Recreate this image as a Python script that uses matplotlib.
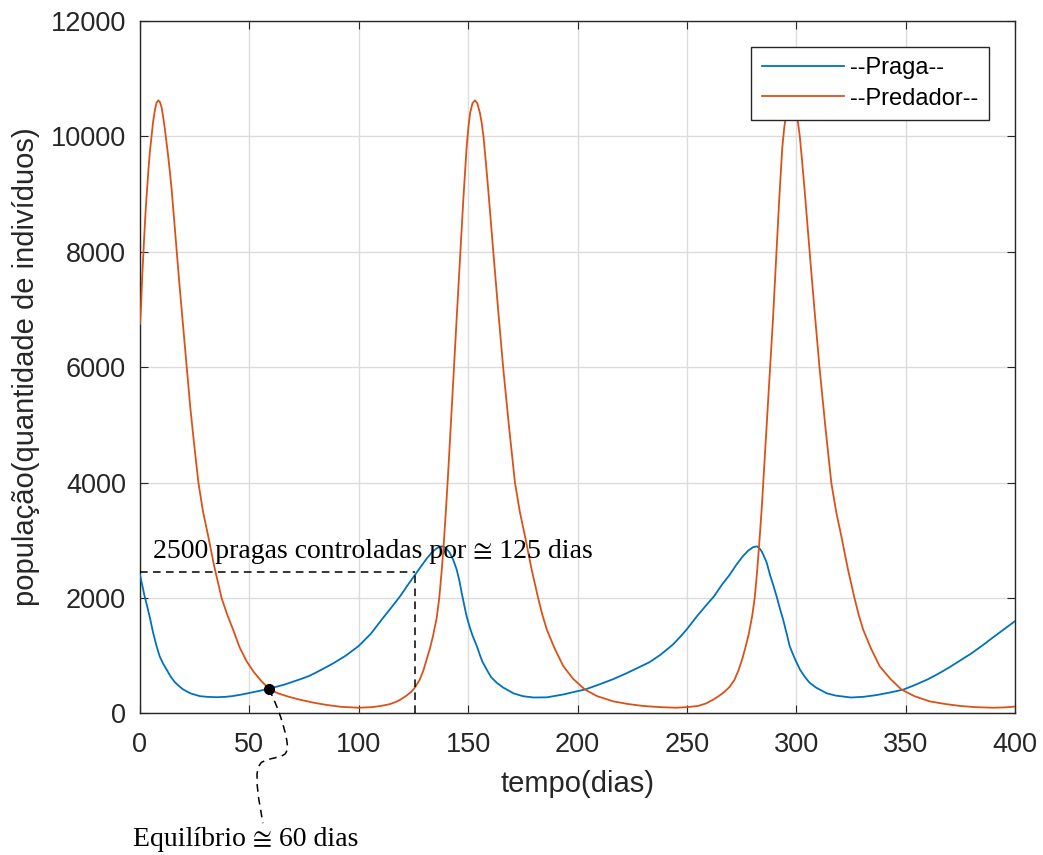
import numpy as np
import matplotlib.pyplot as plt
from matplotlib.path import Path
from matplotlib.patches import PathPatch

# Predador (orange) curve
t_pred = [0, 0.5, 1, 1.5, 2, 2.5, 3, 3.8, 4.5, 5.3, 6, 6.9, 7.6, 8.4, 9.1, 9.9,
          10.6, 11.4, 12.1, 12.9, 13.7, 14.5, 15.6, 16.8, 18, 19.5, 21.3, 23, 24.8,
          26.7, 28.8, 31.2, 34, 37.3, 40, 42.6, 45.5, 48.8, 52, 55.5, 59, 63, 68,
          73, 79, 85, 92, 100, 106, 110, 114, 117, 119, 121.5, 123.8, 125.7, 127.8,
          129.5, 131, 132.5, 134, 135.6, 136.8, 137.8, 138.7, 139.9, 141, 142.1,
          143.2, 144.7, 146.3, 147.8, 149.3, 150.1, 150.9, 152, 153.1, 154.2, 155.4,
          156.2, 157, 158.1, 159.2, 160.3, 161.5, 163.7, 166, 168.6, 171.4, 173.6,
          176, 179, 182, 184, 186, 189.5, 193.5, 198, 203.4, 209, 216.4, 223, 230,
          238, 245, 250, 255, 258.5, 262, 264.5, 267, 269.5, 271.7, 273.5, 275.2,
          276.8, 278.3, 279.8, 281, 282, 283, 284.2, 285.3, 286.5, 287.7, 289.3,
          290.8, 292.2, 293.6, 294.5, 295.4, 296.5, 297.7, 298.8, 300, 300.8, 301.6,
          302.7, 303.8, 304.9, 306.1, 308.3, 310.6, 313.2, 316, 318.2, 320.6, 323.6,
          326.6, 328.6, 330.6, 334.1, 338.1, 343, 348.1, 354, 361, 368, 375, 382,
          390, 395, 400]
y_pred = [6750, 7050, 7550, 7930, 8300, 8650, 8950, 9380, 9720, 10000, 10250,
          10470, 10580, 10620, 10590, 10500, 10330, 10120, 9900, 9650, 9370, 9070,
          8560, 8000, 7450, 6800, 6000, 5300, 4650, 4000, 3500, 3070, 2540, 2000,
          1700, 1450, 1150, 900, 720, 560, 430, 350, 290, 240, 190, 150, 115, 100,
          110, 130, 160, 200, 240, 300, 370, 450, 580, 740, 930, 1120, 1350, 1650,
          2000, 2420, 2850, 3550, 4250, 5000, 5750, 6800, 7900, 8900, 9800, 10150,
          10400, 10570, 10620, 10570, 10400, 10230, 10000, 9550, 9070, 8550, 8000,
          7000, 6000, 5000, 4000, 3500, 3070, 2500, 2000, 1700, 1450, 1130, 820, 600,
          415, 300, 210, 165, 130, 110, 100, 110, 130, 170, 240, 300, 370, 460, 580,
          740, 930, 1150, 1380, 1680, 2000, 2420, 2900, 3550, 4250, 5000, 5750, 6800,
          7900, 8900, 9800, 10150, 10400, 10570, 10620, 10570, 10400, 10230, 10000,
          9550, 9070, 8550, 8000, 7000, 6000, 5000, 4000, 3500, 3070, 2500, 2000,
          1700, 1450, 1130, 820, 600, 415, 300, 210, 165, 130, 110, 100, 105, 120]

# Praga (blue) curve
t_praga = [0, 1, 2, 3, 4.6, 6, 7.6, 9, 10.5, 12.2, 14, 16, 18, 19.8, 23, 27.4, 31,
           35, 39, 42, 46, 50.3, 55, 59, 62.5, 66, 69.5, 73, 77, 80, 84, 88.4, 94,
           100, 105.5, 111, 115, 118.9, 122.5, 125.7, 128.5, 131, 133.4, 135.6,
           137.2, 138.5, 140, 141.5, 143.2, 144.8, 146, 147, 148.2, 149.3, 150.7,
           152, 154, 155.5, 156.5, 158.5, 160.5, 163, 166, 170.7, 175, 180, 186,
           193.6, 198, 203.4, 209, 216, 222, 227.5, 233, 238, 243.5, 247, 250, 254.5,
           258.5, 262.4, 266, 269.5, 272.5, 275.5, 278, 280.2, 282, 283.2, 284.3,
           285.5, 286.5, 288, 289.5, 291, 292.5, 294, 295.5, 297, 299.3, 301.7, 303.8,
           306, 309, 313.9, 318, 325, 331, 336.8, 343, 349, 354, 360, 365, 370, 375,
           380, 385.5, 390, 395, 400]
y_praga = [2400, 2230, 2050, 1900, 1650, 1400, 1165, 990, 870, 760, 640, 540, 470,
           415, 350, 300, 288, 282, 288, 300, 325, 358, 395, 432, 465, 500, 545, 590,
           645, 700, 780, 870, 1000, 1170, 1380, 1650, 1840, 2030, 2230, 2400, 2550,
           2680, 2790, 2860, 2890, 2895, 2860, 2790, 2660, 2490, 2300, 2100, 1880,
           1685, 1500, 1350, 1165, 1000, 900, 760, 630, 535, 450, 350, 300, 277, 280,
           330, 370, 415, 490, 590, 690, 790, 890, 1020, 1190, 1330, 1460, 1680, 1860,
           2030, 2230, 2400, 2570, 2720, 2820, 2880, 2895, 2860, 2800, 2700, 2610,
           2400, 2220, 2030, 1820, 1625, 1400, 1165, 950, 760, 640, 536, 450, 350,
           310, 277, 290, 320, 365, 415, 490, 590, 690, 800, 920, 1040, 1190, 1320,
           1460, 1600]

# annotations
equil_t, equil_y = 59, 430
ctrl_t, ctrl_y = 125.5, 2450
txt_ctrl = "2500 pragas controladas por \u2245 125 dias"
txt_equil = "Equil\u00edbrio \u2245 60 dias"
# connector from the equilibrium point to its label (data coords)
conn_t = [59.0, 61.0, 63.2, 65.0, 66.3, 67.1, 67.4, 67.2, 66.4, 64.6, 61.5, 58.0,
          55.4, 54.0, 53.5, 53.6, 54.3, 55.3, 56.2]
conn_y = [425, 260, 60, -140, -320, -460, -560, -640, -700, -740, -770, -800,
          -850, -930, -1050, -1250, -1480, -1700, -1900]

xticks = np.arange(0, 401, 50)
yticks = np.arange(0, 12001, 2000)

plt.rcParams['font.family'] = ['Liberation Sans', 'DejaVu Sans']

fig = plt.figure(figsize=(10.43, 8.55), dpi=100)
ax = fig.add_axes([0.1342, 0.1655, 0.8390, 0.8103])

tc = '#262626'
ax.plot(t_praga, y_praga, color='#0072BD', lw=1.3, label='--Praga--', zorder=3)
ax.plot(t_pred, y_pred, color='#D95319', lw=1.3, label='--Predador--', zorder=3)

dash = (0, (5, 3.5))
ax.plot([0, ctrl_t], [ctrl_y, ctrl_y], color='black', ls=dash, lw=1.1, zorder=4)
ax.plot([ctrl_t, ctrl_t], [0, ctrl_y], color='black', ls=dash, lw=1.1, zorder=4)
ax.plot([equil_t], [equil_y], 'o', color='black', ms=7, zorder=5)

codes = [Path.MOVETO] + [Path.LINETO] * (len(conn_t) - 1)
path = Path(np.column_stack([conn_t, conn_y]), codes)
ax.add_patch(PathPatch(path, fill=False, ec='black', lw=1.1, ls=dash,
                       clip_on=False, zorder=5))

serif = ['Liberation Serif', 'STIXGeneral', 'DejaVu Sans']
ax.text(5.9, 2700, txt_ctrl, family=serif, fontsize=20, color='black', va='baseline')
ax.text(-3.2, -2300, txt_equil, family=serif, fontsize=20, color='black',
        va='baseline', clip_on=False)

ax.set_xlim(0, 400)
ax.set_ylim(0, 12000)
ax.set_xticks(xticks)
ax.set_yticks(yticks)
ax.grid(True, color='#dcdcdc', lw=1.0)
ax.set_axisbelow(True)
ax.tick_params(direction='in', length=6, width=0.8, colors=tc, labelsize=19.5,
               top=True, right=True)
ax.tick_params(axis='x', pad=13)
ax.tick_params(axis='y', pad=10)
for s in ax.spines.values():
    s.set_color(tc)
    s.set_linewidth(1.0)

ax.set_xlabel('tempo(dias)', fontsize=21, color=tc, labelpad=9)
ax.set_ylabel('popula\u00e7\u00e3o(quantidade de indiv\u00edduos)', fontsize=21, color=tc, labelpad=8)

leg = ax.legend(loc='upper right', bbox_to_anchor=(0.9703, 0.9625), borderaxespad=0,
                fontsize=17, frameon=True, fancybox=False, edgecolor='#262626',
                framealpha=1, handlelength=3.5, handletextpad=0.25, borderpad=0.45,
                labelspacing=0.35)
leg.get_frame().set_linewidth(1.0)
leg.set_zorder(10)

fig.savefig('out.png', dpi=100)
